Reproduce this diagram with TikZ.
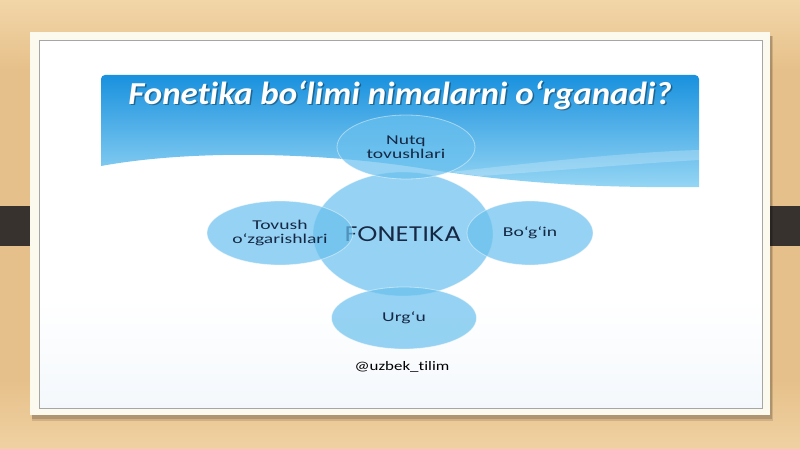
\documentclass[tikz,border=0pt]{standalone}
\usepackage{graphicx}
\usepackage{fontspec}
\setmainfont{Carlito}[Ligatures={TeX,NoCommon}]
\newfontfamily\fonfont{Poppins}
\usetikzlibrary{shapes.geometric}
\definecolor{wood}{RGB}{230,192,138}
\definecolor{woodlight}{RGB}{242,214,168}
\definecolor{bardark}{RGB}{55,50,45}
\definecolor{framecol}{RGB}{252,249,238}
\definecolor{blueTop}{RGB}{25,145,222}
\definecolor{blueBot}{RGB}{150,214,244}
\definecolor{bub}{RGB}{105,192,238}
\definecolor{txt}{RGB}{22,40,68}
\newcommand{\sx}[1]{\scalebox{1.45}[1]{#1}}
\begin{document}
\begin{tikzpicture}[x=1pt,y=-1pt,
  bubble/.style={ellipse, fill=bub, fill opacity=0.7, draw=white, draw opacity=0.45,
    line width=0.8pt, inner sep=0pt, text opacity=1, align=center,
    font=\fontsize{13.5}{14.5}\selectfont, text=txt}]
\useasboundingbox (0,0) rectangle (800,449);
% wood background
\fill[wood] (0,0) rectangle (800,449);
\shade[top color=woodlight, bottom color=wood] (0,0) rectangle (800,70);
\shade[top color=wood, bottom color=woodlight!80!wood] (0,380) rectangle (800,449);
% dark bars
\fill[bardark] (0,206) rectangle (50,246);
\fill[bardark] (750,206) rectangle (800,246);
% slide frame
\fill[black, opacity=0.12] (32,36) rectangle (773,421);
\fill[black, opacity=0.15] (32,36) rectangle (772,419);
\fill[framecol] (30,32) rectangle (770,415);
\fill[white] (39,40) rectangle (762,408);
\shade[top color=white, bottom color={rgb,255:red,244;green,248;blue,252}] (39,300) rectangle (762,408);
\draw[gray!70, line width=0.8pt] (39,40) rectangle (762,408);
% banner
\shade[top color=blueTop, bottom color=blueBot]
  (101,166) [rounded corners=4pt] -- (101,75) -- (699,75) [sharp corners] -- (699,187)
  .. controls (600,188) and (520,184) .. (420,168)
  .. controls (330,154) and (200,148) .. (101,166) -- cycle;
\fill[white, opacity=0.22] (450,172) .. controls (540,162) and (630,152) .. (699,150)
  -- (699,160) .. controls (630,164) and (540,172) .. (480,176) -- cycle;
% title
\node[text=black, opacity=0.35, font=\fontsize{32}{32}\selectfont\bfseries\itshape] (titleshadow) at (401.5,96.5) {\scalebox{1.09}[1]{Fonetika bo‘limi nimalarni o‘rganadi?}};
\node[text=white, font=\fontsize{32}{32}\selectfont\bfseries\itshape] (title) at (400,95) {\scalebox{1.09}[1]{Fonetika bo‘limi nimalarni o‘rganadi?}};
% bubbles
\node[bubble, minimum width=180pt, minimum height=124pt, font=\fontsize{21}{21}\fonfont] (fon) at (403,234) {\scalebox{1.22}[1]{FONETIKA}};
\node[bubble, minimum width=138pt, minimum height=64pt] (nutq) at (406,147) {\sx{Nutq}\\\sx{tovushlari}};
\node[bubble, minimum width=146pt, minimum height=64pt] (tovush) at (280,233) {\sx{Tovush}\\\sx{o‘zgarishlari}};
\node[bubble, minimum width=126pt, minimum height=64pt] (bogin) at (530,233) {\sx{Bo‘g‘in}};
\node[bubble, minimum width=145pt, minimum height=62pt] (urgu) at (404,318) {\sx{Urg‘u}};
% handle
\node[font=\fontsize{13}{13}\selectfont, text=black] (handle) at (402,367) {\scalebox{1.3}[1]{@uzbek\_tilim}};
\end{tikzpicture}
\end{document}
